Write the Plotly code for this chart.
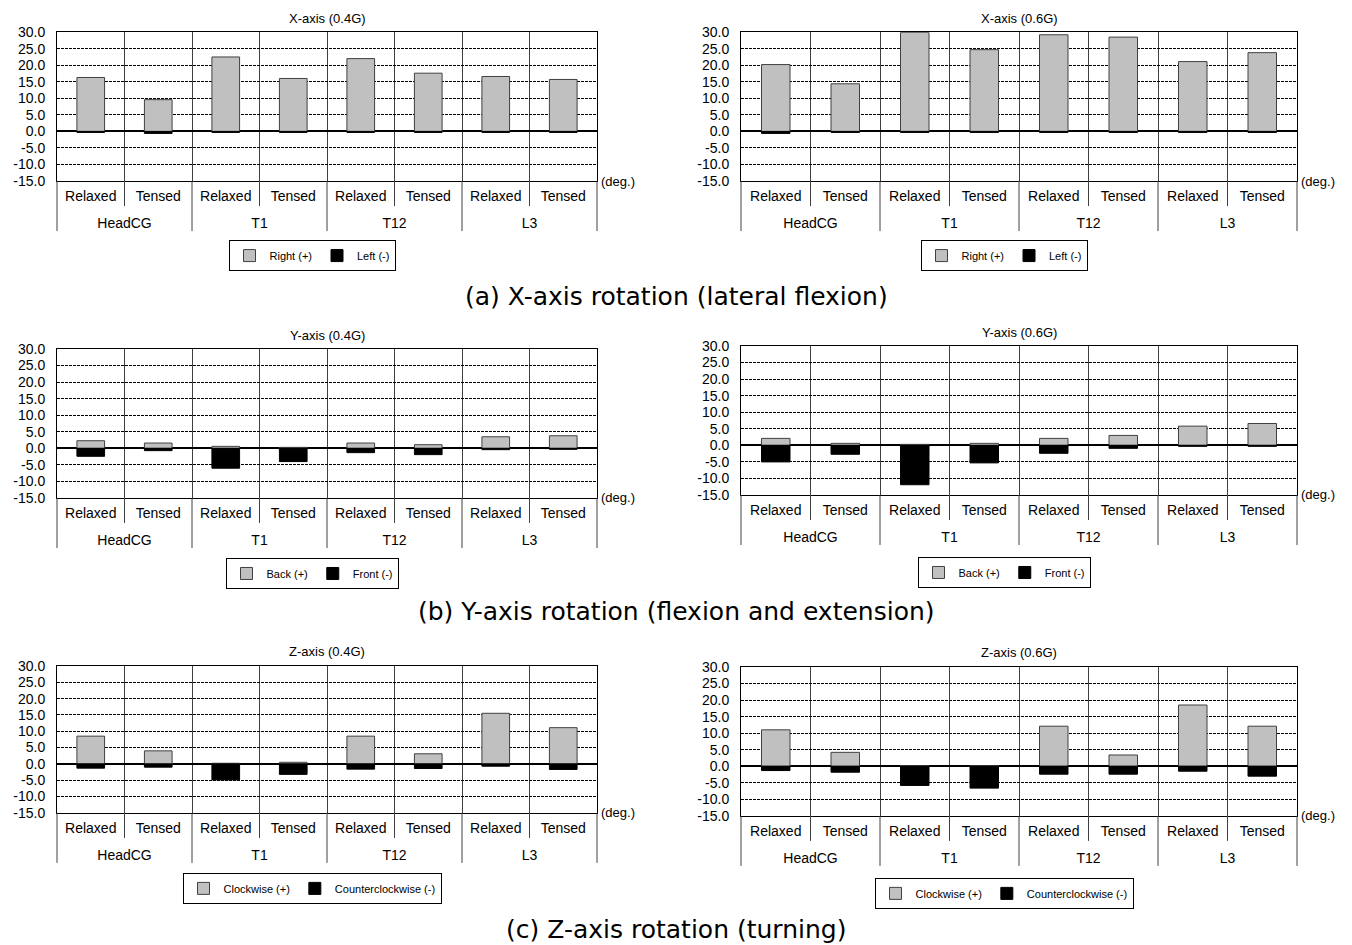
import plotly.graph_objects as go

# ---------------- data ----------------
groups = ["HeadCG", "T1", "T12", "L3"]
states = ["Relaxed", "Tensed"]
x_group = [g for g in groups for _ in states]
x_state = [s for _ in groups for s in states]
x_keys = [f"{g} {s}" for g, s in zip(x_group, x_state)]

y_ticks = [-15, -10, -5, 0, 5, 10, 15, 20, 25, 30]
y_ticktext = [f"{v:.1f}" for v in y_ticks]

titles = ["X-axis (0.4G)", "X-axis (0.6G)", "Y-axis (0.4G)", "Y-axis (0.6G)",
          "Z-axis (0.4G)", "Z-axis (0.6G)"]
pos_names = ["Right (+)", "Right (+)", "Back (+)", "Back (+)", "Clockwise (+)", "Clockwise (+)"]
neg_names = ["Left (-)", "Left (-)", "Front (-)", "Front (-)",
             "Counterclockwise (-)", "Counterclockwise (-)"]

x04_pos = [16.3, 9.6, 22.5, 16.0, 22.0, 17.6, 16.6, 15.7]
x04_neg = [-0.3, -0.6, -0.3, -0.3, -0.3, -0.3, -0.3, -0.3]
x06_pos = [20.2, 14.4, 29.9, 24.7, 29.2, 28.5, 21.1, 23.8]
x06_neg = [-0.6, -0.3, -0.3, -0.3, -0.3, -0.3, -0.3, -0.3]
y04_pos = [2.3, 1.6, 0.6, 0.3, 1.6, 1.1, 3.5, 3.8]
y04_neg = [-2.4, -0.7, -6.0, -4.0, -1.3, -1.9, -0.4, -0.3]
y06_pos = [2.1, 0.6, 0.3, 0.6, 2.1, 3.0, 5.8, 6.6]
y06_neg = [-5.0, -2.7, -11.9, -5.3, -2.4, -0.9, -0.3, -0.3]
z04_pos = [8.5, 4.0, 0.2, 0.5, 8.5, 3.1, 15.5, 11.1]
z04_neg = [-1.3, -1.0, -4.9, -3.2, -1.6, -1.4, -0.7, -1.7]
z06_pos = [11.0, 4.2, 0.2, 0.2, 12.1, 3.4, 18.5, 12.1]
z06_neg = [-1.3, -1.8, -5.8, -6.6, -2.4, -2.4, -1.5, -3.0]

pos_series = [x04_pos, x06_pos, y04_pos, y06_pos, z04_pos, z06_pos]
neg_series = [x04_neg, x06_neg, y04_neg, y06_neg, z04_neg, z06_neg]

captions = ["(a) X-axis rotation (lateral flexion)",
            "(b) Y-axis rotation (flexion and extension)",
            "(c) Z-axis rotation (turning)"]

# ---------------- layout geometry (pixels) ----------------
W, H = 1352, 945
FONT = "Liberation Sans, Arial, sans-serif"
# (left, right, top, bottom) of each plot area
boxes = [(57, 597, 32, 181), (741, 1297, 32, 181),
         (57, 597, 349, 498), (741, 1297, 346, 495),
         (57, 597, 666, 813), (741, 1297, 667, 816)]
legend_top = [240, 240, 558, 557, 873, 878]
caption_y = [296, 612, 930]

n_cat = len(x_keys)
per_group = len(states)
cat_range = [-0.5, n_cat - 0.5]
group_centers = [per_group * k + (per_group - 1) / 2 for k in range(len(groups))]


def px(x):
    return x / W


def py(y):
    # vertical pixel position on the photographed page -> paper fraction
    ys = y * 961 / 945 - 8
    return 1 - ys / H


fig = go.Figure()
annotations = []
shapes = []
layout = {}

for i in range(6):
    n = i + 1
    sfx = "" if n == 1 else str(n)
    xo = f"x{n + 6}"
    l, r, t, b = boxes[i]
    leg = "legend" if n == 1 else f"legend{n}"
    fig.add_trace(go.Bar(
        x=x_keys, y=pos_series[i], name=pos_names[i],
        marker=dict(color="#C0C0C0", line=dict(color="#404040", width=1)),
        width=0.41, xaxis="x" + sfx, yaxis="y" + sfx, legend=leg))
    # negative part: same categories, on the overlaid axis that carries the
    # segment labels (positive and negative parts never stack on each other)
    fig.add_trace(go.Bar(
        x=x_keys, y=neg_series[i], name=neg_names[i],
        marker=dict(color="#000000", line=dict(color="#000000", width=1)),
        width=0.41, xaxis=xo, yaxis="y" + sfx, legend=leg))

    # first label row: Relaxed / Tensed
    layout["xaxis" + sfx] = dict(
        type="category", categoryorder="array", categoryarray=x_keys,
        range=cat_range, domain=[px(l), px(r)], anchor="y" + sfx,
        tickmode="array", tickvals=x_keys, ticktext=x_state,
        showline=True, mirror=True, linecolor="black", linewidth=1,
        showgrid=True, gridcolor="#404040", gridwidth=1,
        tickson="boundaries", ticks="", ticklabelstandoff=2,
        tickfont=dict(size=14, color="black", family=FONT), fixedrange=True)
    # second label row: segment names
    layout[f"xaxis{n + 6}"] = dict(
        overlaying="x" + sfx, anchor="free", position=py(b), side="bottom",
        type="category", categoryorder="array", categoryarray=x_keys,
        range=cat_range,
        tickmode="array", tickvals=group_centers, ticktext=groups,
        showline=False, showgrid=False, zeroline=False, ticks="",
        ticklabelstandoff=32,
        tickfont=dict(size=14, color="black", family=FONT), fixedrange=True)
    layout["yaxis" + sfx] = dict(
        domain=[py(b), py(t)], anchor="x" + sfx, range=[-15, 30],
        tickmode="array", tickvals=y_ticks, ticktext=y_ticktext,
        showgrid=True, gridcolor="black", gridwidth=1, griddash="3px,1px",
        zeroline=True, zerolinecolor="black", zerolinewidth=1.5,
        showline=True, mirror=True, linecolor="black", linewidth=1,
        ticks="", ticklabelstandoff=8,
        tickfont=dict(size=14, color="black", family=FONT), fixedrange=True)
    layout[leg] = dict(
        orientation="h", x=px((l + r) / 2 - 15), xanchor="center",
        y=py(legend_top[i]), yanchor="top",
        bordercolor="black", borderwidth=1, bgcolor="white",
        font=dict(size=11, color="black", family=FONT),
        itemwidth=30, tracegroupgap=0)
    annotations.append(dict(
        text=titles[i], x=px((l + r) / 2), y=py(t - 14), xref="paper", yref="paper",
        xanchor="center", yanchor="middle", showarrow=False,
        font=dict(size=13, color="black", family=FONT)))
    annotations.append(dict(
        text="(deg.)", x=px(r + 2), y=py(b), xref="paper", yref="paper",
        xanchor="left", yanchor="middle", showarrow=False,
        font=dict(size=13, color="black", family=FONT)))
    # separators below the axis: short ones between Relaxed / Tensed,
    # long ones between segments
    for k in range(n_cat + 1):
        xs = px(l + (r - l) * k / n_cat)
        depth = 50 if k % per_group == 0 else 25
        shapes.append(dict(
            type="line", xref="paper", yref="paper", x0=xs, x1=xs,
            y0=py(b), y1=py(b + depth), line=dict(color="#404040", width=1)))

for k, cap in enumerate(captions):
    annotations.append(dict(
        text=cap, x=0.5, y=py(caption_y[k]), xref="paper", yref="paper",
        xanchor="center", yanchor="middle", showarrow=False,
        font=dict(size=25, color="black", family="DejaVu Sans, sans-serif")))

fig.update_layout(
    width=W, height=H, margin=dict(l=0, r=0, t=0, b=0),
    paper_bgcolor="white", plot_bgcolor="white",
    barmode="relative", showlegend=True,
    annotations=annotations, shapes=shapes, **layout)

fig.write_html("out.html")
